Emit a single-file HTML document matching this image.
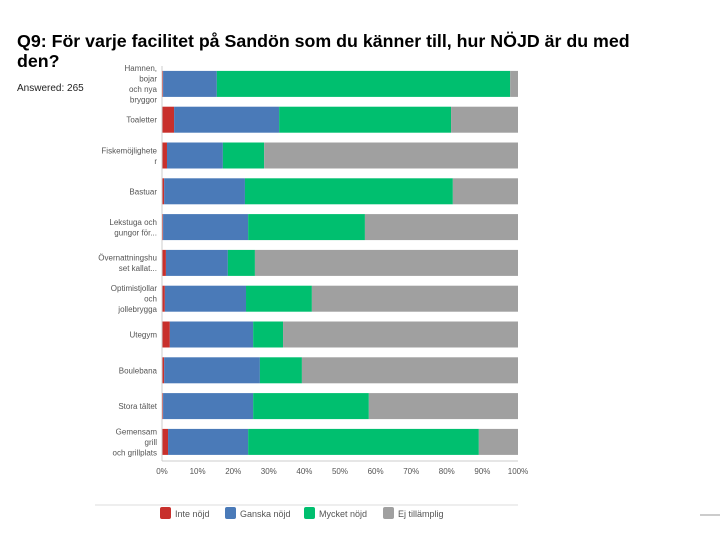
<!DOCTYPE html>
<html><head><meta charset="utf-8"><style>
body{margin:0;background:#fff;width:720px;height:540px;overflow:hidden;font-family:"Liberation Sans",sans-serif}
#title{position:absolute;left:17px;top:31px;font-size:17.8px;font-weight:bold;line-height:20px;color:#000;white-space:nowrap}
#ans{position:absolute;left:17px;top:83px;font-size:10px;color:#222}
svg{position:absolute;left:0;top:0}
</style></head><body>
<div id="title">Q9: För varje facilitet på Sandön som du känner till, hur NÖJD är du med<br>den?</div>
<div id="ans">Answered: 265</div>
<svg id="chart" width="720" height="540"></svg>
<script>
const categories=[["Hamnen,","bojar","och nya","bryggor"],["Toaletter"],["Fiskemöjlighete","r"],["Bastuar"],["Lekstuga och","gungor för..."],["Övernattningshu","set kallat..."],["Optimistjollar","och","jollebrygga"],["Utegym"],["Boulebana"],["Stora tältet"],["Gemensam","grill","och grillplats"]];
const inteNojd=[0.3,3.4,1.4,0.6,0.3,1.1,0.8,2.2,0.6,0.3,1.7];
const ganskaNojd=[15.1,29.5,15.7,22.7,23.9,17.4,22.8,23.4,26.9,25.3,22.5];
const mycketNojd=[82.4,48.3,11.6,58.4,32.8,7.6,18.5,8.4,11.8,32.5,64.8];
const ejTillamplig=[2.2,18.8,71.3,18.3,43.0,73.9,57.9,66.0,60.7,41.9,11.0];
const seriesNames=["Inte nöjd","Ganska nöjd","Mycket nöjd","Ej tillämplig"];
const tickLabels=["0%","10%","20%","30%","40%","50%","60%","70%","80%","90%","100%"];
const colors=["#c8302c","#4a7ab8","#00bf6f","#a0a0a0"];
const svg=document.getElementById('chart');const NS="http://www.w3.org/2000/svg";
const x0=162,x1=518,yTop=66,rowH=35.8,barH=26;
const xs=v=>x0+(x1-x0)*v/100;
function mk(t,a){const e=document.createElementNS(NS,t);for(const k in a)e.setAttribute(k,a[k]);svg.appendChild(e);return e;}
const series=[inteNojd,ganskaNojd,mycketNojd,ejTillamplig];
categories.forEach((c,i)=>{
 const cy=yTop+rowH*i+rowH/2;let acc=0;
 series.forEach((s,j)=>{
  const r=mk('rect',{x:xs(acc),y:cy-barH/2,width:xs(acc+s[i])-xs(acc),height:barH,fill:colors[j]});
  
  
  acc+=s[i];
 });
 const lh=10.5,start=cy-(c.length-1)*lh/2+3;
 c.forEach((ln,k)=>{const t=mk('text',{x:157,y:start+k*lh,'text-anchor':'end','font-size':8,fill:'#555'});t.textContent=ln;
  });
});
const ax=mk('line',{x1:x0,y1:yTop,x2:x0,y2:461,stroke:'#ccc'});
const bx=mk('line',{x1:x0,y1:461,x2:x1,y2:461,stroke:'#ccc'});
tickLabels.forEach((l,i)=>{const t=mk('text',{x:xs(i*10),y:474,'text-anchor':'middle','font-size':8,fill:'#555'});t.textContent=l;
 });
const lx=[160,225,304,383];
seriesNames.forEach((n,j)=>{
 const r=mk('rect',{x:lx[j],y:507,width:11,height:12,rx:2,fill:colors[j]});
 const t=mk('text',{x:lx[j]+15,y:517,'font-size':9,fill:'#555'});t.textContent=n;
});
const f=mk('line',{x1:95,y1:505,x2:518,y2:505,stroke:'#ddd'});
const f2=mk('line',{x1:700,y1:515,x2:720,y2:515,stroke:'#ccc',"stroke-width":2});
</script>
</body></html>
